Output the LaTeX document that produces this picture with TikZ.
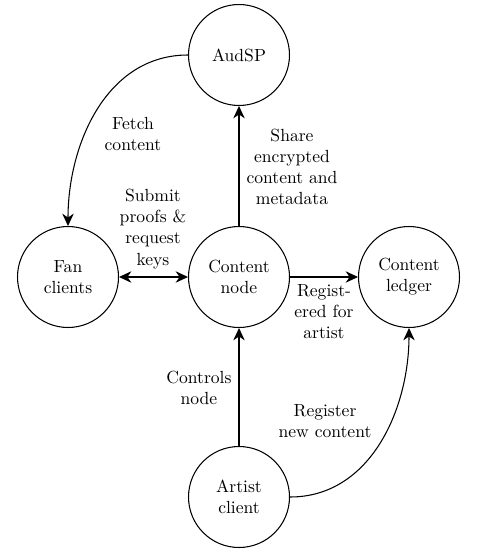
\documentclass[tikz,border=0pt]{standalone}
\usetikzlibrary{arrows.meta}
\begin{document}
\begin{tikzpicture}[x=0.02cm,y=-0.02cm,
  actor/.style={circle,draw,semithick,minimum size=2.02cm,inner sep=0pt,align=center},
  lbl/.style={align=center,inner sep=0pt},
  tip/.tip={Stealth[length=7pt,width=6.5pt,inset=2.2pt]},
  conn/.style={-tip,semithick},
  bidir/.style={tip-tip,semithick}]
\useasboundingbox (0,0) rectangle (490,557);
\node[actor] (aud) at (239,55) {AudSP};
\node[actor] (fan) at (68,277) {Fan\\clients};
\node[actor] (cn) at (239,277) {Content\\node};
\node[actor] (led) at (409,277) {Content\\ledger};
\node[actor] (art) at (239,497) {Artist\\client};

\draw[conn] (aud.west) to[out=180,in=90] (fan.north);
\draw[conn] (cn) -- (aud);
\draw[bidir] (fan) -- (cn);
\draw[conn] (cn) -- (led);
\draw[conn] (art) -- (cn);
\draw[conn] (art.east) to[out=0,in=-90] (led.south);

\node[lbl] (l1) at (133,134) {Fetch\\content};
\node[lbl] (l2) at (292,167) {Share\\encrypted\\content and\\metadata};
\node[lbl] (l3) at (153,229) {Submit\\proofs \&\\request\\keys};
\node[lbl] (l4) at (324,312) {Regist-\\ered for\\artist};
\node[lbl] (l5) at (199,388) {Controls\\node};
\node[lbl] (l6) at (325,421) {Register\\new content};
\end{tikzpicture}
\end{document}
